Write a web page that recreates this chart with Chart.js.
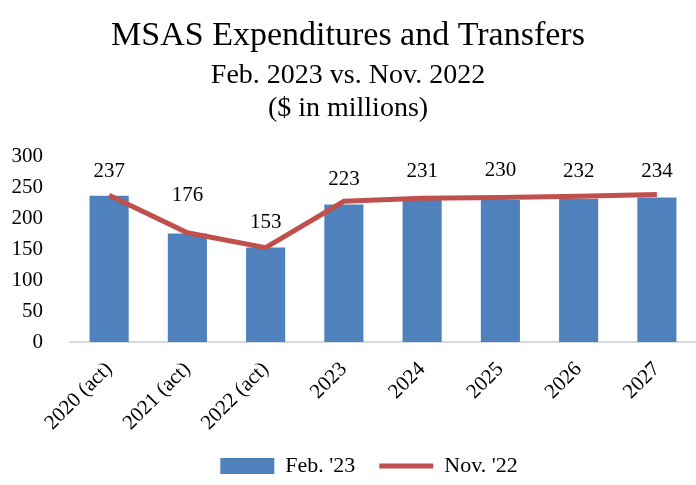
<!DOCTYPE html>
<html>
<head>
<meta charset="utf-8">
<script src="https://cdn.jsdelivr.net/npm/chart.js@4/dist/chart.umd.min.js"></script>
<style>
  html, body { margin: 0; padding: 0; background: #fff; }
  #wrap { width: 696px; height: 485px; }
</style>
</head>
<body>
<div id="wrap"><canvas id="chart" width="696" height="485"></canvas></div>
<script>
const categories = ['2020 (act)', '2021 (act)', '2022 (act)', '2023', '2024', '2025', '2026', '2027'];
const feb23 = [237, 176, 153, 223, 231, 230, 232, 234];
const nov22 = [238, 177, 153, 228, 233, 234, 236, 239];
const yTicks = [0, 50, 100, 150, 200, 250, 300];

const serif = "'Liberation Serif', 'DejaVu Serif', serif";

// value labels above the bars (176 sits a bit higher to clear the line)
const labelLift = [24, 38, 25, 25, 28, 30, 27, 26];

const barLabels = {
  id: 'barLabels',
  afterLayout(chart) {
    // the original legend sits a little right of centre
    chart.legend.left += 21;
    chart.legend.right += 21;
  },
  afterDatasetsDraw(chart) {
    const ctx = chart.ctx;
    const meta = chart.getDatasetMeta(1);
    ctx.save();
    ctx.font = '21px ' + serif;
    ctx.fillStyle = '#000';
    ctx.textAlign = 'center';
    ctx.textBaseline = 'middle';
    meta.data.forEach((bar, i) => {
      ctx.fillText(String(feb23[i]), bar.x, bar.y - labelLift[i]);
    });
    ctx.restore();
  }
};

new Chart(document.getElementById('chart'), {
  type: 'bar',
  data: {
    labels: categories,
    datasets: [
      {
        type: 'line',
        label: "Nov. '22",
        data: nov22,
        borderColor: '#C0504D',
        backgroundColor: '#C0504D',
        borderWidth: 5,
        pointRadius: 0,
        tension: 0,
        order: 0
      },
      {
        label: "Feb. '23",
        data: feb23,
        backgroundColor: '#4F81BD',
        barPercentage: 0.5,
        categoryPercentage: 1,
        order: 1
      }
    ]
  },
  options: {
    responsive: false,
    animation: false,
    layout: { autoPadding: false, padding: 0 },
    plugins: {
      title: {
        display: true,
        text: 'MSAS Expenditures and Transfers',
        color: '#000',
        font: { family: serif, size: 34, weight: 'normal' },
        padding: { top: 16, bottom: 2 }
      },
      subtitle: {
        display: true,
        text: ['Feb. 2023 vs. Nov. 2022', '($ in millions)'],
        color: '#000',
        font: { family: serif, size: 28, weight: 'normal', lineHeight: 1.18 },
        padding: { top: 0, bottom: 32 }
      },
      legend: {
        position: 'bottom',
        maxHeight: 54,
        labels: {
          color: '#000',
          font: { family: serif, size: 22 },
          usePointStyle: true,
          pointStyleWidth: 54,
          boxHeight: 16,
          padding: 24,
          generateLabels(chart) {
            return [
              { text: "Feb. '23", fillStyle: '#4F81BD', strokeStyle: '#4F81BD', lineWidth: 0, pointStyle: 'rect', datasetIndex: 1 },
              { text: "Nov. '22", fillStyle: '#C0504D', strokeStyle: '#C0504D', lineWidth: 5, pointStyle: 'line', datasetIndex: 0 }
            ];
          }
        }
      },
      tooltip: { enabled: false }
    },
    scales: {
      x: {
        grid: { display: false, drawTicks: false },
        border: { color: '#D9D9D9', width: 2 },
        afterFit(axis) {
          axis.paddingLeft = 0;
          axis.paddingRight = 0;
          axis.height = 89;
        },
        ticks: {
          color: '#000',
          font: { family: serif, size: 21 },
          minRotation: 45,
          maxRotation: 45,
          padding: 15
        }
      },
      y: {
        min: 0,
        max: 300,
        grid: { display: false, drawTicks: false },
        border: { display: false },
        afterBuildTicks(axis) {
          axis.ticks = yTicks.map(v => ({ value: v }));
        },
        afterFit(axis) {
          axis.width = 70;
        },
        ticks: {
          color: '#000',
          font: { family: serif, size: 21 },
          autoSkip: false,
          padding: 27
        }
      }
    }
  },
  plugins: [barLabels]
});
</script>
</body>
</html>
